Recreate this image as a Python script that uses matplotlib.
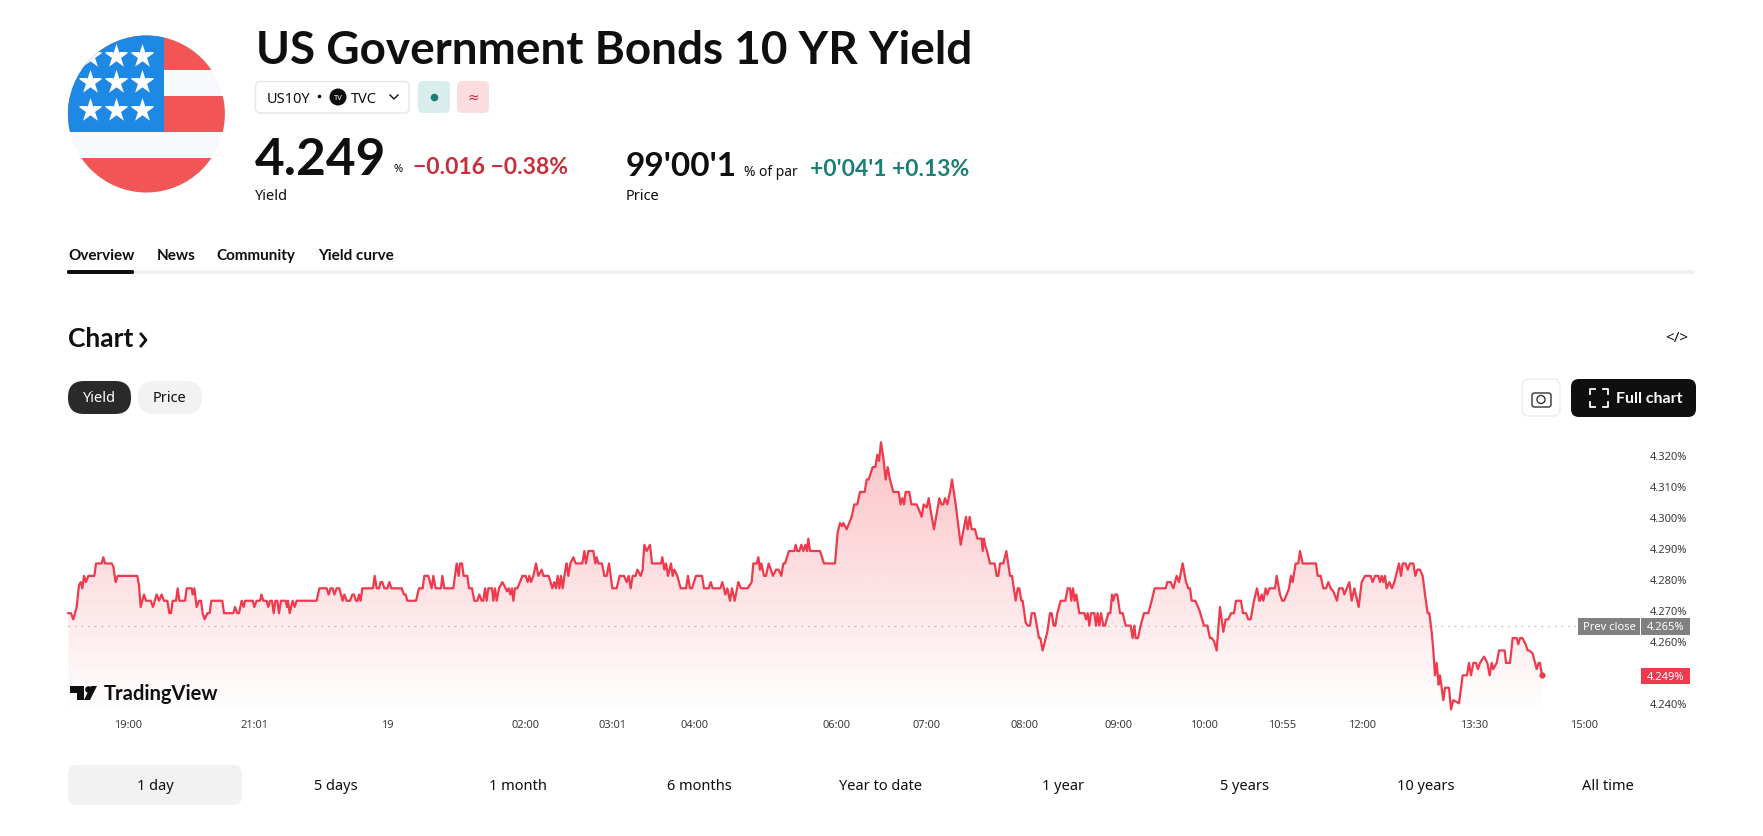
import numpy as np
import matplotlib
matplotlib.use('Agg')
import matplotlib.pyplot as plt
from matplotlib.patches import Circle, FancyBboxPatch, Rectangle, Polygon

plt.rcParams['font.family'] = ['Noto Sans', 'DejaVu Sans']

# session position along the time axis and yield in %
pos_evening = [25, 33, 40, 50, 57, 62, 67, 72, 78, 85, 103, 108, 125, 130, 135, 155, 160, 167, 173, 232,
               237, 242, 252, 258, 272, 279, 290, 297, 305, 312, 322, 328, 333, 338, 348, 353, 358, 375, 380, 395,
               398, 403, 410, 417, 423, 428, 434, 442, 449, 454, 487, 492, 520, 525, 532, 537, 545, 551, 555, 578,
               583, 590, 600, 604, 610, 620, 625, 630, 636, 641, 646, 652, 657, 663, 677, 681, 684, 689, 698, 704,
               710, 770, 778, 800, 806, 812, 818, 823, 830, 838, 848, 853, 860, 870, 877, 882, 888, 893, 897, 902,
               907, 939, 944, 950, 957, 962, 967, 973, 982, 988, 994, 1025, 1032, 1037, 1042, 1068, 1077, 1088, 1093, 1105,
               1115, 1120, 1127, 1143, 1147, 1153, 1180, 1190, 1196]
yield_evening = [4.269, 4.269, 4.267, 4.271, 4.278, 4.279, 4.277, 4.281, 4.279, 4.281, 4.281, 4.285, 4.285, 4.287, 4.285, 4.285, 4.284, 4.279, 4.281, 4.281,
                 4.278, 4.271, 4.275, 4.273, 4.273, 4.271, 4.275, 4.273, 4.275, 4.273, 4.273, 4.269, 4.269, 4.273, 4.273, 4.277, 4.273, 4.273, 4.277, 4.277,
                 4.275, 4.277, 4.271, 4.273, 4.273, 4.269, 4.267, 4.269, 4.269, 4.273, 4.273, 4.269, 4.269, 4.271, 4.269, 4.269, 4.273, 4.271, 4.273, 4.273,
                 4.271, 4.273, 4.273, 4.275, 4.273, 4.273, 4.271, 4.273, 4.273, 4.269, 4.273, 4.273, 4.269, 4.273, 4.273, 4.271, 4.273, 4.269, 4.273, 4.271,
                 4.273, 4.273, 4.277, 4.277, 4.275, 4.277, 4.277, 4.275, 4.277, 4.277, 4.273, 4.275, 4.273, 4.273, 4.275, 4.275, 4.273, 4.273, 4.275, 4.273,
                 4.277, 4.277, 4.281, 4.277, 4.277, 4.279, 4.279, 4.277, 4.277, 4.279, 4.277, 4.277, 4.275, 4.275, 4.273, 4.273, 4.277, 4.277, 4.281, 4.281,
                 4.277, 4.281, 4.277, 4.277, 4.281, 4.277, 4.277, 4.285, 4.281]

pos_night = [1200, 1206, 1211, 1222, 1227, 1236, 1243, 1252, 1258, 1265, 1270, 1275, 1280, 1285, 1296, 1300, 1305, 1310, 1317, 1327,
             1337, 1341, 1346, 1351, 1356, 1360, 1365, 1372, 1380, 1387, 1397, 1403, 1408, 1413, 1420, 1428, 1435, 1445, 1450, 1466,
             1477, 1483, 1488, 1493, 1498, 1503, 1508, 1516, 1520, 1525, 1531, 1540, 1547, 1567, 1573, 1578, 1585, 1600, 1606, 1610,
             1615, 1626, 1633, 1640, 1647, 1657, 1670, 1679, 1692, 1700, 1706, 1712, 1718, 1727, 1732, 1742, 1748, 1753, 1760, 1770,
             1776, 1803, 1807, 1813, 1818, 1824, 1833, 1838, 1843, 1852, 1862, 1878, 1884, 1890, 1896, 1908, 1926, 1932, 1946, 1952,
             1958, 1981, 1987, 1996, 2002, 2010, 2016, 2024, 2035, 2043, 2063, 2075, 2080, 2090, 2095, 2100, 2104, 2112, 2118, 2126,
             2139, 2148, 2156, 2164, 2170, 2175, 2187, 2203, 2207, 2212, 2218, 2224, 2230, 2236, 2241, 2245, 2250, 2280, 2292, 2325,
             2333, 2340, 2346, 2350, 2360, 2375, 2383, 2392]
yield_night = [4.285, 4.285, 4.281, 4.281, 4.277, 4.277, 4.273, 4.273, 4.275, 4.273, 4.273, 4.277, 4.273, 4.277, 4.277, 4.273, 4.277, 4.273, 4.277, 4.279,
               4.277, 4.276, 4.277, 4.275, 4.277, 4.273, 4.277, 4.277, 4.279, 4.281, 4.281, 4.279, 4.281, 4.279, 4.281, 4.285, 4.281, 4.283, 4.281, 4.281,
               4.277, 4.279, 4.277, 4.281, 4.277, 4.281, 4.277, 4.283, 4.285, 4.281, 4.285, 4.287, 4.285, 4.285, 4.289, 4.285, 4.289, 4.289, 4.285, 4.287,
               4.285, 4.285, 4.281, 4.281, 4.285, 4.277, 4.277, 4.281, 4.281, 4.279, 4.281, 4.277, 4.281, 4.281, 4.283, 4.281, 4.283, 4.291, 4.289, 4.291,
               4.285, 4.285, 4.287, 4.283, 4.285, 4.281, 4.285, 4.281, 4.283, 4.281, 4.277, 4.277, 4.281, 4.277, 4.277, 4.281, 4.281, 4.277, 4.277, 4.279,
               4.277, 4.277, 4.279, 4.275, 4.277, 4.273, 4.277, 4.273, 4.279, 4.277, 4.277, 4.279, 4.285, 4.285, 4.287, 4.283, 4.285, 4.281, 4.281, 4.285,
               4.281, 4.283, 4.283, 4.281, 4.285, 4.285, 4.289, 4.289, 4.291, 4.289, 4.289, 4.291, 4.289, 4.291, 4.289, 4.293, 4.289, 4.289, 4.285, 4.285,
               4.295, 4.298, 4.297, 4.298, 4.296, 4.300, 4.304, 4.304]

pos_morning = [2400, 2414, 2420, 2426, 2438, 2446, 2452, 2457, 2463, 2470, 2477, 2483, 2490, 2500, 2516, 2522, 2527, 2532, 2537, 2548,
               2554, 2570, 2578, 2585, 2591, 2600, 2606, 2612, 2622, 2638, 2644, 2650, 2655, 2662, 2670, 2676, 2687, 2702, 2718, 2723,
               2729, 2735, 2745, 2752, 2765, 2768, 2772, 2775, 2781, 2790, 2804, 2810, 2815, 2820, 2830, 2839, 2850, 2856, 2867, 2873,
               2878, 2884, 2888, 2897, 2903, 2910, 2915, 2924, 2937, 2941, 2948, 2962, 2970, 2975, 2981, 2986, 2992, 3002, 3016, 3023,
               3030, 3034, 3039, 3044, 3049, 3058, 3073, 3078, 3083, 3088, 3093, 3103, 3108, 3113, 3118, 3123, 3130, 3135, 3145, 3151,
               3156, 3160, 3165, 3172, 3180, 3188, 3197, 3212, 3218, 3223, 3227, 3234, 3242, 3252, 3265, 3275, 3284, 3317, 3322, 3332,
               3340, 3350, 3357, 3368, 3378, 3385, 3390, 3395, 3406, 3418, 3432, 3442, 3450, 3455, 3462, 3470, 3480, 3490, 3497, 3505,
               3513, 3522, 3528, 3543, 3549, 3558, 3565, 3572, 3582, 3591, 3598]
yield_morning = [4.308, 4.308, 4.312, 4.312, 4.316, 4.316, 4.320, 4.318, 4.324, 4.319, 4.312, 4.316, 4.312, 4.308, 4.308, 4.304, 4.306, 4.304, 4.308, 4.308,
                 4.304, 4.304, 4.302, 4.300, 4.304, 4.303, 4.306, 4.302, 4.296, 4.306, 4.304, 4.304, 4.306, 4.304, 4.308, 4.312, 4.304, 4.291, 4.300, 4.296,
                 4.300, 4.296, 4.296, 4.293, 4.293, 4.289, 4.293, 4.291, 4.289, 4.285, 4.285, 4.281, 4.281, 4.285, 4.285, 4.289, 4.281, 4.281, 4.273, 4.277,
                 4.277, 4.273, 4.273, 4.266, 4.265, 4.265, 4.269, 4.269, 4.261, 4.261, 4.257, 4.263, 4.269, 4.269, 4.265, 4.265, 4.269, 4.273, 4.273, 4.277,
                 4.277, 4.273, 4.277, 4.273, 4.275, 4.269, 4.269, 4.267, 4.269, 4.265, 4.269, 4.269, 4.265, 4.269, 4.265, 4.269, 4.265, 4.265, 4.269, 4.269,
                 4.275, 4.273, 4.275, 4.275, 4.269, 4.269, 4.265, 4.265, 4.261, 4.265, 4.261, 4.261, 4.265, 4.269, 4.269, 4.273, 4.277, 4.277, 4.279, 4.279,
                 4.277, 4.281, 4.279, 4.285, 4.279, 4.277, 4.277, 4.273, 4.273, 4.270, 4.265, 4.265, 4.261, 4.261, 4.260, 4.257, 4.271, 4.263, 4.267, 4.267,
                 4.269, 4.269, 4.273, 4.273, 4.269, 4.269, 4.267, 4.267, 4.273, 4.277, 4.273]

pos_afternoon = [3600, 3605, 3610, 3617, 3622, 3628, 3645, 3650, 3660, 3667, 3672, 3680, 3687, 3693, 3698, 3707, 3715, 3720, 3728, 3768,
                 3773, 3782, 3790, 3798, 3805, 3812, 3820, 3831, 3837, 3848, 3853, 3868, 3875, 3883, 3896, 3905, 3915, 3932, 3938, 3945,
                 3955, 3960, 3965, 3970, 3975, 3980, 3988, 3996, 4003, 4017, 4023, 4028, 4037, 4043, 4050, 4060, 4066, 4072, 4080, 4088,
                 4095, 4103, 4108, 4115, 4120, 4125, 4130, 4136, 4140, 4150, 4155, 4167, 4173, 4180, 4197, 4208, 4221, 4227, 4233, 4240,
                 4248, 4254, 4260, 4272, 4282, 4289, 4295, 4300, 4310, 4317, 4334, 4338, 4350, 4358, 4370, 4375, 4380, 4387, 4397, 4403,
                 4408, 4418, 4430, 4436, 4440, 4446]
yield_afternoon = [4.273, 4.275, 4.273, 4.277, 4.275, 4.277, 4.277, 4.281, 4.275, 4.273, 4.273, 4.275, 4.277, 4.281, 4.279, 4.285, 4.285, 4.289, 4.285, 4.285,
                   4.281, 4.281, 4.277, 4.277, 4.279, 4.277, 4.276, 4.273, 4.277, 4.277, 4.275, 4.279, 4.273, 4.277, 4.271, 4.279, 4.281, 4.281, 4.279, 4.281,
                   4.281, 4.279, 4.281, 4.279, 4.281, 4.277, 4.279, 4.277, 4.279, 4.285, 4.281, 4.285, 4.285, 4.283, 4.285, 4.285, 4.281, 4.283, 4.283, 4.281,
                   4.275, 4.269, 4.269, 4.263, 4.257, 4.249, 4.253, 4.246, 4.249, 4.241, 4.245, 4.245, 4.238, 4.241, 4.240, 4.249, 4.249, 4.253, 4.249, 4.253,
                   4.253, 4.251, 4.253, 4.255, 4.253, 4.249, 4.253, 4.251, 4.253, 4.257, 4.257, 4.253, 4.253, 4.261, 4.261, 4.259, 4.261, 4.261, 4.259, 4.257,
                   4.257, 4.256, 4.251, 4.253, 4.253, 4.249]

time_ticks = [205, 582, 983, 1397, 1657, 1903, 2329, 2600, 2894, 3176, 3433, 3666, 3907, 4242, 4573]
time_labels = ['19:00', '21:01', '19', '02:00', '03:01', '04:00', '06:00', '07:00', '08:00', '09:00',
               '10:00', '10:55', '12:00', '13:30', '15:00']
yield_ticks = [4.24, 4.26, 4.27, 4.28, 4.29, 4.30, 4.31, 4.32]
prev_close = 4.265
last_yield = 4.249

range_labels = ['1 day', '5 days', '1 month', '6 months', 'Year to date', '1 year', '5 years', '10 years', 'All time']
range_centers = [155, 336, 518, 699, 881, 1063, 1245, 1426, 1608]

RED = '#ee3a4c'
TEAL = '#1b7f75'
INK = '#0f0f0f'

pos = pos_evening + pos_night + pos_morning + pos_afternoon
yields = yield_evening + yield_night + yield_morning + yield_afternoon

W, H = 1763, 837
fig = plt.figure(figsize=(W / 100, H / 100), dpi=100, facecolor='white')

# chart axes, px 60..1640 horizontally and 430..715 vertically
ax = fig.add_axes([60 / W, 1 - 715 / H, 1580 / W, 285 / H])
ax.set_xlim(0, 4740)
ax.set_ylim(4.23656, 4.32826)
ax.patch.set_alpha(0)
for s in ax.spines.values():
    s.set_visible(False)

# gradient under the line
grad = np.zeros((256, 2, 4))
grad[..., 0] = 242 / 255
grad[..., 1] = 54 / 255
grad[..., 2] = 69 / 255
grad[..., 3] = np.linspace(0.32, 0.0, 256)[:, None]
im = ax.imshow(grad, aspect='auto', extent=[0, 4740, 4.23656, 4.32826], origin='upper', zorder=1)
poly = Polygon(list(zip(pos, yields)) + [(pos[-1], 4.23656), (pos[0], 4.23656)], closed=True,
               transform=ax.transData, facecolor='none', edgecolor='none')
ax.add_patch(poly)
im.set_clip_path(poly)

ax.plot([pos[0], 4554], [prev_close, prev_close], color='#9a9a9a', lw=0.8, ls=(0, (1, 5)), zorder=2)
ax.plot(pos, yields, color=RED, lw=1.6, solid_joinstyle='round', zorder=3)
ax.plot(pos[-1], yields[-1], 'o', color=RED, ms=4.5, mec='none', zorder=4)

ax.set_xticks(time_ticks)
ax.set_xticklabels(time_labels, fontsize=8, color='#3c3c3c')
ax.yaxis.tick_right()
ax.set_yticks(yield_ticks)
ax.set_yticklabels(['%.3f%%' % v for v in yield_ticks], fontsize=8, color='#3c3c3c')
ax.tick_params(axis='x', length=0, pad=3.5)
ax.tick_params(axis='y', length=0, pad=7)

# page furniture in pixel coordinates
ui = fig.add_axes([0, 0, 1, 1], zorder=5)
ui.set_xlim(0, W)
ui.set_ylim(H, 0)
ui.axis('off')


def box(x0, y0, x1, y1, r, fc, ec='none', lw=1):
    ui.add_patch(FancyBboxPatch((x0, y0), x1 - x0, y1 - y0, boxstyle='round,pad=0,rounding_size=%g' % r,
                                fc=fc, ec=ec, lw=lw))


def label(x, y, s, size, color=INK, ha='left', family='Noto Sans', weight='normal'):
    ui.text(x, y + 1, s, fontsize=size, color=color, ha=ha, va='center', family=family, fontweight=weight)


# flag
clip = Circle((146.4, 115), 78.5, transform=ui.transData, fc='none', ec='none')
ui.add_patch(clip)
stripes = [(36, 71, '#f15555'), (71, 97, '#f8f9fd'), (97, 133, '#f15555'), (133, 159, '#f8f9fd'), (159, 194, '#f15555')]
for y0, y1, c in stripes:
    ui.add_patch(Rectangle((60, y0), 170, y1 - y0, fc=c, ec='none', clip_path=clip))
ui.add_patch(Rectangle((60, 30), 104, 103, fc='#1e88e5', ec='none', clip_path=clip))
for sy in [57, 83, 110.5]:
    stars = ui.scatter([90, 116, 142], [sy] * 3, marker='*', s=330, c='white', linewidths=0, zorder=3)
    stars.set_clip_path(clip)

label(256, 50, 'US Government Bonds 10 YR Yield', 33, family='Lato', weight='bold')

box(255.5, 82.5, 409, 114, 5, 'white', '#e6e6e6')
label(267, 98, 'US10Y', 10.5)
ui.plot(319, 97, 'o', color=INK, ms=1.6)
ui.add_patch(Circle((338, 98), 8.5, fc=INK, ec='none'))
ui.text(338, 98, 'TV', fontsize=5.5, color='white', ha='center', va='center', fontweight='bold')
label(351, 98, 'TVC', 10.5)
ui.plot([390, 394, 398], [96, 100, 96], color=INK, lw=1)
box(418, 82, 450, 114, 5, '#d9eeec')
ui.plot(434, 98, 'o', color=TEAL, ms=5.5, mec='none')
box(457, 82, 489, 114, 5, '#fbdde0')
ui.text(473, 98, '≈', fontsize=10, color='#c62f3a', ha='center', va='center')

label(255, 159, '4.249', 37, family='Lato', weight='bold')
label(394, 168, '%', 8)
label(413, 166, '−0.016 −0.38%', 16.5, color='#c62f3a', family='Lato', weight='bold')
label(626, 165.5, "99'00'1", 24, family='Lato', weight='bold')
label(744, 171, '% of par', 10)
label(810, 168, "+0'04'1 +0.13%", 16.5, color=TEAL, family='Lato', weight='bold')
label(255, 195, 'Yield', 10.5)
label(626, 195, 'Price', 10.5)

for tx, ts in zip([68, 157, 216, 318], ['Overview', 'News', 'Community', 'Yield curve']):
    label(tx, 255, ts, 11, family='Lato', weight='bold')
box(67, 271.5, 1695, 275, 1.5, '#f0f0f0')
box(67, 271, 134, 275, 1.5, INK)

label(68, 338, 'Chart', 19, family='Lato', weight='bold')
ui.plot([141, 146, 141], [335, 341, 347], color=INK, lw=2)
label(1677, 337, '</>', 11, ha='center')

box(68, 382, 131, 415, 16, '#2a2a2a')
label(99.5, 398, 'Yield', 10.5, color='white', ha='center')
box(138, 382, 202, 415, 16, '#f2f2f2')
label(170, 398, 'Price', 10.5, ha='center')

box(1522, 380, 1560, 417, 7, 'white', '#ebebeb')
box(1532, 394, 1551, 408, 2.5, 'none', '#333333', 1)
ui.add_patch(Circle((1541, 400.5), 4, fc='none', ec='#333333', lw=1))
box(1571, 380, 1696, 418, 8, INK)
for cx, cy, dx, dy in [(1590, 390, 1, 1), (1608, 390, -1, 1), (1590, 408, 1, -1), (1608, 408, -1, -1)]:
    ui.plot([cx + 5 * dx, cx, cx], [cy, cy, cy + 5 * dy], color='white', lw=1.3)
label(1616, 398, 'Full chart', 11.5, color='white', family='Lato', weight='bold')

# TradingView mark
ui.add_patch(Polygon([(70, 687), (84, 687), (84, 701), (77, 701), (77, 694), (70, 694)], fc=INK, ec='none'))
ui.add_patch(Circle((88.5, 690.5), 3.3, fc=INK, ec='none'))
ui.add_patch(Polygon([(90, 701), (84, 701), (91, 687), (97, 687)], fc=INK, ec='none'))
label(104, 693, 'TradingView', 14.5, family='Lato', weight='bold')

# price badges
ui.add_patch(Rectangle((1578, 619), 62, 17, fc='#808080', ec='none'))
ui.add_patch(Rectangle((1641, 619), 49, 17, fc='#808080', ec='none'))
label(1609, 626.5, 'Prev close', 8, color='white', ha='center')
label(1665.5, 626.5, '%.3f%%' % prev_close, 8, color='white', ha='center')
ui.add_patch(Rectangle((1641, 669), 49, 16, fc=RED, ec='none'))
label(1665.5, 676, '%.3f%%' % last_yield, 8, color='white', ha='center')

# range buttons
box(68, 766, 242, 806, 9, '#f2f2f2')
for cx, rl in zip(range_centers, range_labels):
    label(cx, 786, rl, 10.5, ha='center')

fig.savefig('out.png', dpi=100)
